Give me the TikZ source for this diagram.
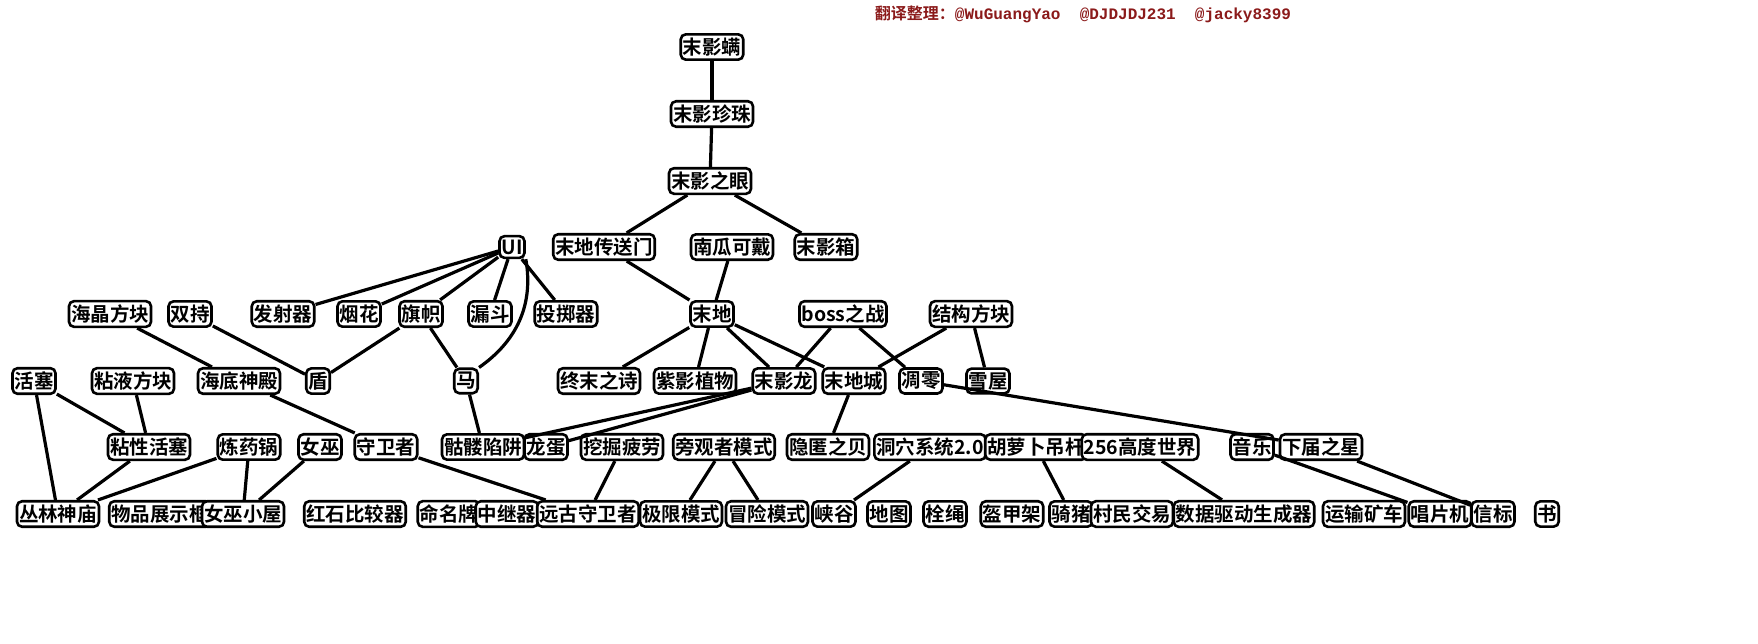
\documentclass[tikz,border=0pt]{standalone}
\usepackage{fontspec}
\newfontfamily\cjk{Noto Sans CJK SC Bold}
\newfontfamily\credmono{Liberation Mono Bold}
\definecolor{credit}{HTML}{8B1A1A}
\tikzset{
  feat/.style={draw, line width=2.6pt, rounded corners=5pt, fill=white,
    inner xsep=2pt, inner ysep=3.5pt, font=\cjk\fontsize{19.5}{19.5}\selectfont},
  link/.style={line width=3.2pt}
}
\begin{document}
\begin{tikzpicture}[x=1pt, y=-1pt]
    \useasboundingbox (0,0) rectangle (1758,643);
    \node[text=credit, inner sep=0pt] at (1083,14) (credit)
      {\cjk\fontsize{16}{16}\selectfont 翻译整理：\credmono @WuGuangYao\ \ @DJDJDJ231\ \ @jacky8399};
    % top column
    \node[feat] at (712,47) (endermite) {末影螨};
    \node[feat] at (712,114) (pearl) {末影珍珠};
    \node[feat] at (710,181) (eye) {末影之眼};
    \node[feat] at (512,247) (ui) {UI};
    \node[feat] at (604,247) (portal) {末地传送门};
    \node[feat] at (732,247) (pumpkin) {南瓜可戴};
    \node[feat] at (826,247) (chest) {末影箱};
    % row 3
    \node[feat] at (110,314) (prism) {海晶方块};
    \node[feat] at (190,314) (dual) {双持};
    \node[feat] at (283,314) (dispenser) {发射器};
    \node[feat] at (359,314) (firework) {烟花};
    \node[feat] at (421,314) (banner) {旗帜};
    \node[feat] at (490,314) (hopper) {漏斗};
    \node[feat] at (566,314) (dropper) {投掷器};
    \node[feat] at (712,314) (theend) {末地};
    \node[feat] at (843,314) (boss) {boss之战};
    \node[feat] at (971,314) (structure) {结构方块};
    % row 4
    \node[feat] at (34,381) (piston) {活塞};
    \node[feat] at (133,381) (slime) {粘液方块};
    \node[feat] at (239,381) (monument) {海底神殿};
    \node[feat] at (318,381) (shield) {盾};
    \node[feat] at (466,381) (horse) {马};
    \node[feat] at (599,381) (poem) {终末之诗};
    \node[feat] at (695,381) (chorus) {紫影植物};
    \node[feat] at (784,381) (dragon) {末影龙};
    \node[feat] at (854,381) (city) {末地城};
    \node[feat] at (921,381) (wither) {凋零};
    \node[feat] at (988,381) (igloo) {雪屋};
    % row 5
    \node[feat] at (149,447) (sticky) {粘性活塞};
    \node[feat] at (249,447) (cauldron) {炼药锅};
    \node[feat] at (320,447) (witch) {女巫};
    \node[feat] at (386,447) (guardian) {守卫者};
    \node[feat] at (483,447) (trap) {骷髅陷阱};
    \node[feat] at (546,447) (egg) {龙蛋};
    \node[feat] at (622,447) (fatigue) {挖掘疲劳};
    \node[feat] at (724,447) (spectator) {旁观者模式};
    \node[feat] at (828,447) (shulker) {隐匿之贝};
    \node[feat] at (930,447) (caves) {洞穴系统2.0};
    \node[feat] at (1036,447) (carrot) {胡萝卜吊杆};
    \node[feat] at (1140,447) (height) {256高度世界};
    \node[feat] at (1252,447) (music) {音乐};
    \node[feat] at (1321,447) (star) {下届之星};
    % bottom row
    \node[feat] at (58,514) (jungle) {丛林神庙};
    \node[feat] at (160,514) (frame) {物品展示框};
    \node[feat] at (243,514) (hut) {女巫小屋};
    \node[feat] at (355,514) (comparator) {红石比较器};
    \node[feat] at (449,514) (nametag) {命名牌};
    \node[feat] at (507,514) (repeater) {中继器};
    \node[feat] at (588,514) (elder) {远古守卫者};
    \node[feat] at (681,514) (hardcore) {极限模式};
    \node[feat] at (767,514) (adventure) {冒险模式};
    \node[feat] at (834,514) (ravine) {峡谷};
    \node[feat] at (889,514) (map) {地图};
    \node[feat] at (945,514) (lead) {栓绳};
    \node[feat] at (1012,514) (stand) {盔甲架};
    \node[feat] at (1071,514) (pig) {骑猪};
    \node[feat] at (1132,514) (trading) {村民交易};
    \node[feat] at (1244,514) (datagen) {数据驱动生成器};
    \node[feat] at (1364,514) (minecart) {运输矿车};
    \node[feat] at (1440,514) (jukebox) {唱片机};
    \node[feat] at (1493,514) (beacon) {信标};
    \node[feat] at (1547,514) (book) {书};
    \path[link]
      (endermite) edge (pearl)
      (pearl) edge (eye)
      (eye) edge (portal)
      (eye) edge (chest)
      (portal) edge (theend)
      (pumpkin) edge (theend)
      (ui) edge (dispenser)
      (ui) edge (firework)
      (ui) edge (banner)
      (ui) edge (hopper)
      (ui) edge (dropper)
      (ui.south east) edge[out=-80, in=35] (horse.north east)
      (prism) edge (monument)
      (dual) edge (shield)
      (banner) edge (shield)
      (banner) edge (horse)
      (theend) edge (poem)
      (theend) edge (chorus)
      (theend) edge (dragon)
      (theend) edge (city)
      (boss) edge (dragon)
      (boss) edge (wither)
      (structure) edge (city)
      (structure) edge (igloo)
      (piston) edge (sticky)
      (piston) edge (jungle)
      (slime) edge (sticky)
      (monument) edge (guardian)
      (horse) edge (trap)
      (dragon) edge (trap)
      (dragon) edge (egg)
      (city) edge (shulker)
      (wither) edge (star)
      (sticky) edge (jungle)
      (cauldron) edge (jungle)
      (cauldron) edge (hut)
      (witch) edge (hut)
      (guardian) edge (elder)
      (fatigue) edge (elder)
      (spectator) edge (hardcore)
      (spectator) edge (adventure)
      (caves) edge (ravine)
      (carrot) edge (pig)
      (height) edge (datagen)
      (music) edge (jukebox)
      (star) edge (beacon);
\end{tikzpicture}
\end{document}
